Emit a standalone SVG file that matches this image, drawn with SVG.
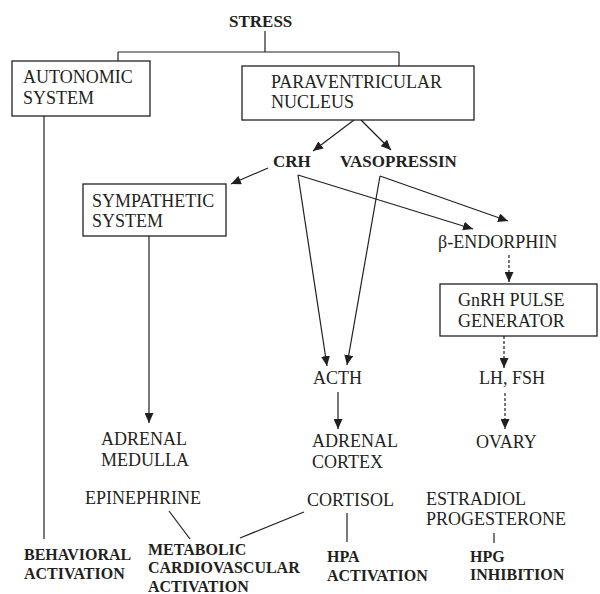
<svg xmlns="http://www.w3.org/2000/svg" width="600" height="594" viewBox="0 0 600 594">
<style>
.t{font-family:'Liberation Serif','DejaVu Serif',serif;font-size:18px;fill:#231f20}
.b{font-family:'Liberation Serif','DejaVu Serif',serif;font-size:16px;font-weight:bold;fill:#231f20}
.bx{fill:#fff;stroke:#231f20;stroke-width:1.3}
.ln{fill:none;stroke:#231f20;stroke-width:1.2}
.ar{marker-end:url(#ah)}
.ds{stroke-dasharray:3 2}
</style>
<defs>
<marker id="ah" markerUnits="userSpaceOnUse" markerWidth="11" markerHeight="9" refX="10" refY="4.5" orient="auto">
<path d="M0,0 L10,4.5 L0,9 z" fill="#231f20"/>
</marker>
</defs>
<rect width="600" height="594" fill="#fff"/>
<g id="connectors">
<path class="ln" d="M265,31 V52 M118,52 H399 M118,52 V61 M399,52 V66"/>
<path class="ln ar" d="M354,120 L313,151"/>
<path class="ln ar" d="M361,120 L391,150"/>
<path class="ln ar" d="M268,168 L231,184"/>
<path class="ln ar" d="M298,175 L327,366"/>
<path class="ln ar" d="M298,175 L473,229"/>
<path class="ln ar" d="M380,176 L347,365"/>
<path class="ln ar" d="M380,176 L508,221"/>
<path class="ln ar" d="M149,236 V423"/>
<path class="ln" d="M44,116 V539"/>
<path class="ln ar ds" d="M509,255 V282"/>
<path class="ln ar ds" d="M504,336 V368"/>
<path class="ln ar ds" d="M505,393 V429"/>
<path class="ln ar" d="M338,392 V429"/>
<path class="ln" d="M169,511 L190,539"/>
<path class="ln" d="M304,512 L240,538"/>
<path class="ln" d="M347,513 V542"/>
<path class="ln" d="M494,533 V543"/>
</g>
<g id="stress"><text class="b" x="229" y="27" style="font-size:17px">STRESS</text></g>
<g id="autonomic"><rect class="bx" x="12" y="61" width="138" height="55"/><text class="t" x="23" y="83">AUTONOMIC</text><text class="t" x="23" y="104">SYSTEM</text></g>
<g id="pvn"><rect class="bx" x="242" y="66" width="232" height="54"/><text class="t" x="271" y="88">PARAVENTRICULAR</text><text class="t" x="271" y="108">NUCLEUS</text></g>
<g id="crh"><text class="b" x="273" y="167" style="font-size:17px">CRH</text></g>
<g id="vasopressin"><text class="b" x="340" y="167" style="font-size:17px">VASOPRESSIN</text></g>
<g id="sympathetic"><rect class="bx" x="83" y="184" width="143" height="52"/><text class="t" x="92" y="207">SYMPATHETIC</text><text class="t" x="92" y="227">SYSTEM</text></g>
<g id="endorphin"><text class="t" x="438" y="248">β-ENDORPHIN</text></g>
<g id="gnrh"><rect class="bx" x="440" y="284" width="157" height="52"/><text class="t" x="458" y="306">GnRH PULSE</text><text class="t" x="458" y="327">GENERATOR</text></g>
<g id="acth"><text class="t" x="313" y="384">ACTH</text></g>
<g id="lhfsh"><text class="t" x="479" y="384">LH, FSH</text></g>
<g id="medulla"><text class="t" x="101" y="445">ADRENAL</text><text class="t" x="101" y="466">MEDULLA</text></g>
<g id="cortex"><text class="t" x="312" y="447">ADRENAL</text><text class="t" x="312" y="468">CORTEX</text></g>
<g id="ovary"><text class="t" x="476" y="448">OVARY</text></g>
<g id="epinephrine"><text class="t" x="85" y="504">EPINEPHRINE</text></g>
<g id="cortisol"><text class="t" x="307" y="506">CORTISOL</text></g>
<g id="estradiol"><text class="t" x="426" y="505">ESTRADIOL</text><text class="t" x="426" y="525">PROGESTERONE</text></g>
<g id="behavioral"><text class="b" x="24" y="560">BEHAVIORAL</text><text class="b" x="24" y="579">ACTIVATION</text></g>
<g id="metabolic"><text class="b" x="148" y="555">METABOLIC</text><text class="b" x="148" y="573">CARDIOVASCULAR</text><text class="b" x="148" y="592">ACTIVATION</text></g>
<g id="hpa"><text class="b" x="327" y="562">HPA</text><text class="b" x="327" y="581">ACTIVATION</text></g>
<g id="hpg"><text class="b" x="470" y="562">HPG</text><text class="b" x="470" y="580">INHIBITION</text></g>
</svg>
